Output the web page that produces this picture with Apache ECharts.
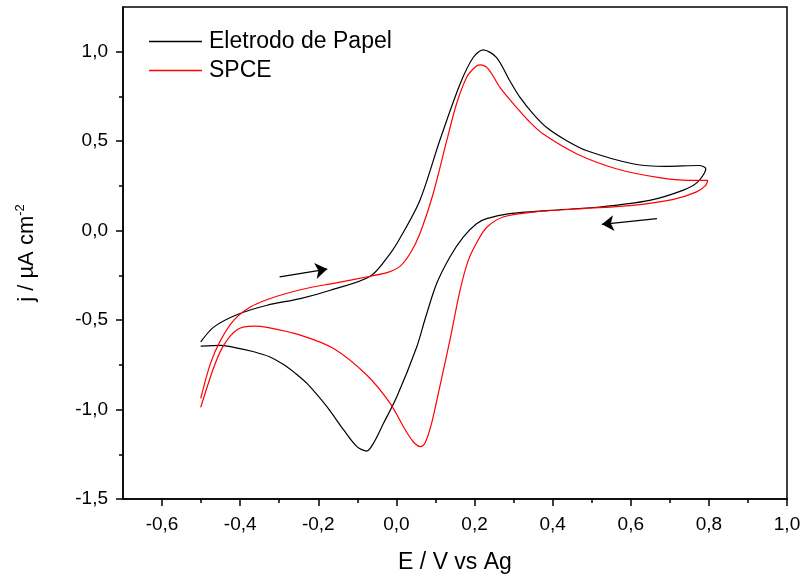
<!DOCTYPE html>
<html>
<head>
<meta charset="utf-8">
<script src="https://cdn.jsdelivr.net/npm/echarts@6/dist/echarts.min.js"></script>
<style>
  html, body { margin: 0; padding: 0; background: #fff; }
  #chart { width: 802px; height: 575px; }
</style>
</head>
<body>
<div id="chart"></div>
<script>
// dados (E em V, j em uA cm-2)
var paperE = [-0.501, -0.467, -0.407, -0.331, -0.246, -0.169, -0.067, -0.016, 0.009, 0.060, 0.111, 0.163, 0.197, 0.222, 0.256, 0.290, 0.316, 0.350, 0.384, 0.435, 0.486, 0.605, 0.690, 0.775, 0.792,
  0.771, 0.733, 0.648, 0.520, 0.392, 0.290, 0.231, 0.205, 0.171, 0.137, 0.103, 0.074, 0.052, 0.001, -0.033, -0.059, -0.076, -0.101, -0.135, -0.178, -0.229, -0.260, -0.289, -0.325, -0.365, -0.410, -0.450, -0.501];
var paperJ = [-0.622, -0.538, -0.469, -0.417, -0.380, -0.333, -0.255, -0.128, -0.043, 0.169, 0.504, 0.820, 0.969, 1.010, 0.969, 0.839, 0.746, 0.653, 0.578, 0.504, 0.448, 0.374, 0.359, 0.364, 0.346,
  0.271, 0.225, 0.169, 0.132, 0.113, 0.095, 0.067, 0.039, -0.036, -0.147, -0.296, -0.490, -0.650, -0.929, -1.077, -1.189, -1.232, -1.207, -1.114, -0.984, -0.854, -0.795, -0.748, -0.705, -0.677, -0.655, -0.641, -0.646];

var spceE = [-0.501, -0.476, -0.450, -0.416, -0.373, -0.330, -0.280, -0.220, -0.161, -0.067, -0.020, 0.009, 0.035, 0.060, 0.094, 0.129, 0.154, 0.180, 0.201, 0.214, 0.235, 0.265, 0.307, 0.340, 0.375, 0.461, 0.563, 0.673, 0.750, 0.797,
  0.792, 0.767, 0.707, 0.605, 0.477, 0.350, 0.273, 0.232, 0.209, 0.184, 0.163, 0.137, 0.111, 0.090, 0.073, 0.062, 0.043, 0.018, -0.016, -0.076, -0.161, -0.246, -0.331, -0.365, -0.407, -0.442, -0.467, -0.501];
var spceJ = [-0.938, -0.742, -0.612, -0.500, -0.426, -0.385, -0.350, -0.318, -0.295, -0.255, -0.232, -0.200, -0.128, -0.017, 0.206, 0.504, 0.709, 0.857, 0.913, 0.926, 0.904, 0.801, 0.690, 0.610, 0.541, 0.430, 0.346, 0.296, 0.281, 0.281,
  0.253, 0.215, 0.173, 0.141, 0.123, 0.104, 0.076, 0.020, -0.054, -0.166, -0.333, -0.612, -0.873, -1.077, -1.189, -1.207, -1.180, -1.096, -0.965, -0.807, -0.659, -0.584, -0.541, -0.534, -0.553, -0.640, -0.761, -0.988];

// setas de direcao da varredura [E1, j1, E2, j2]
var arrowFwd = [-0.299, -0.258, -0.177, -0.215];
var arrowRev = [0.667, 0.067, 0.526, 0.035];

var xTicks = [-0.6, -0.4, -0.2, 0.0, 0.2, 0.4, 0.6, 0.8, 1.0];
var xMinorTicks = [-0.5, -0.3, -0.1, 0.1, 0.3, 0.5, 0.7, 0.9];
var yTicks = [-1.5, -1.0, -0.5, 0.0, 0.5, 1.0];
var yMinorTicks = [-1.25, -0.75, -0.25, 0.25, 0.75];

function zip(a, b) {
  return a.map(function (v, i) { return [v, b[i]]; });
}
function fmt(v) {
  return Number(v).toFixed(1).replace('.', ',');
}

var fontName = 'Liberation Sans';
var chart = echarts.init(document.getElementById('chart'));

var option = {
  animation: false,
  textStyle: { fontFamily: fontName },
  grid: {
    left: 123, right: 15, top: 7, bottom: 76,
    outerBoundsMode: 'none',
    show: true, borderColor: '#000', borderWidth: 1.5, backgroundColor: 'transparent'
  },
  legend: {
    orient: 'vertical',
    left: 149, top: 30, padding: 0,
    itemWidth: 53, itemHeight: 1.5, itemGap: 6,
    textStyle: { fontSize: 23, color: '#000', fontFamily: fontName, padding: [0, 0, 0, 2] },
    data: [
      { name: 'Eletrodo de Papel', icon: 'rect', itemStyle: { color: '#000' } },
      { name: 'SPCE', icon: 'rect', itemStyle: { color: '#ff0000' } }
    ]
  },
  xAxis: [{
    type: 'value', min: -0.7, max: 1.0,
    name: 'E / V vs Ag', nameLocation: 'middle', nameGap: 52,
    nameTextStyle: { fontSize: 23, color: '#000' },
    axisLine: { show: true, onZero: false, lineStyle: { color: '#000', width: 1.5 } },
    axisTick: { show: true, length: 7, customValues: xTicks, lineStyle: { color: '#000', width: 1.5 } },
    axisLabel: { customValues: xTicks, fontSize: 19, color: '#000', margin: 16, formatter: fmt },
    splitLine: { show: false }
  }, {
    type: 'value', min: -0.7, max: 1.0, position: 'bottom',
    axisLine: { show: false, onZero: false },
    axisTick: { show: true, length: 4, customValues: xMinorTicks, lineStyle: { color: '#000', width: 1.5 } },
    axisLabel: { show: false },
    splitLine: { show: false }
  }],
  yAxis: [{
    type: 'value', min: -1.5, max: 1.25,
    name: 'j / µA cm{sup|-2}', nameLocation: 'middle', nameGap: 84,
    nameTextStyle: {
      fontSize: 22, color: '#000',
      rich: { sup: { fontSize: 13, verticalAlign: 'top', padding: [0, 0, 12, 0] } }
    },
    axisLine: { show: true, onZero: false, lineStyle: { color: '#000', width: 1.5 } },
    axisTick: { show: true, length: 7, customValues: yTicks, lineStyle: { color: '#000', width: 1.5 } },
    axisLabel: { customValues: yTicks, fontSize: 19, color: '#000', margin: 15, formatter: fmt },
    splitLine: { show: false }
  }, {
    type: 'value', min: -1.5, max: 1.25, position: 'left',
    axisLine: { show: false, onZero: false },
    axisTick: { show: true, length: 4, customValues: yMinorTicks, lineStyle: { color: '#000', width: 1.5 } },
    axisLabel: { show: false },
    splitLine: { show: false }
  }],
  series: [{
    name: 'Eletrodo de Papel',
    type: 'line',
    data: zip(paperE, paperJ),
    smooth: 0.3,
    symbol: 'none',
    lineStyle: { color: '#000', width: 1.2 },
    itemStyle: { color: '#000' }
  }, {
    name: 'SPCE',
    type: 'line',
    data: zip(spceE, spceJ),
    smooth: 0.3,
    symbol: 'none',
    lineStyle: { color: '#ff0000', width: 1.2 },
    itemStyle: { color: '#ff0000' }
  }, {
    type: 'lines',
    coordinateSystem: 'cartesian2d',
    symbol: ['none', 'arrow'],
    symbolSize: [6, 12],
    lineStyle: { color: '#000', width: 1.3, opacity: 1 },
    data: [
      { coords: [[arrowFwd[0], arrowFwd[1]], [arrowFwd[2], arrowFwd[3]]] },
      { coords: [[arrowRev[0], arrowRev[1]], [arrowRev[2], arrowRev[3]]] }
    ]
  }]
};
chart.setOption(option);
</script>
</body>
</html>
